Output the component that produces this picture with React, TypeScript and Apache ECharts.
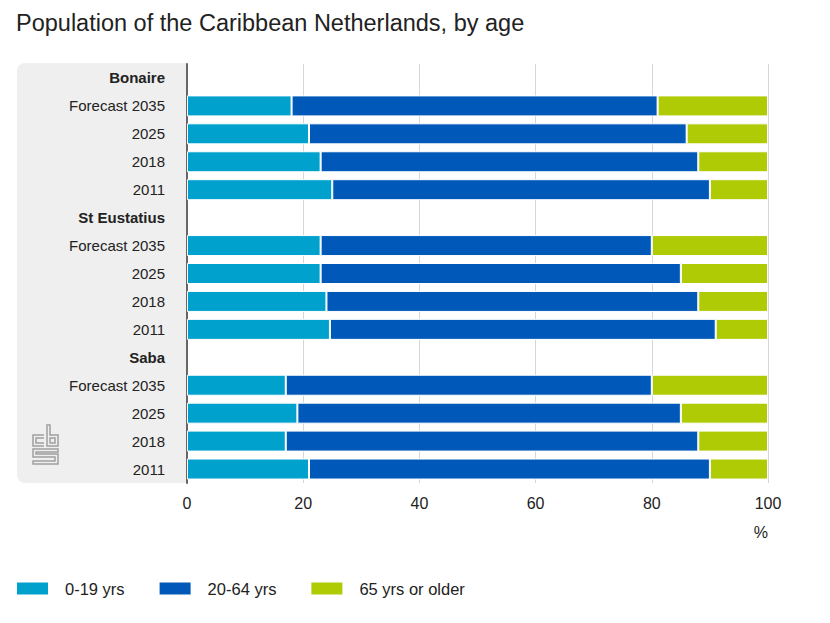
import React, { useEffect, useRef } from "react";
import * as echarts from "echarts";

const islands = ["Bonaire", "St Eustatius", "Saba"];
const periods = ["Forecast 2035", "2025", "2018", "2011"];
// per island, in the order of periods
const age0to19 = [
  [18, 21, 23, 25],
  [23, 23, 24, 24.6],
  [17, 19, 17, 21],
];
const age20to64 = [
  [63, 65, 65, 65],
  [57, 62, 64, 66.4],
  [63, 66, 71, 69],
];
const age65plus = [
  [19, 14, 12, 10],
  [20, 15, 12, 9],
  [20, 15, 12, 10],
];
const seriesNames = ["0-19 yrs", "20-64 yrs", "65 yrs or older"];
const colors = ["#00a1cd", "#0058b8", "#afcb05"];
const xTicks = [0, 20, 40, 60, 80, 100];

const logoPath =
  "M11 10 H0 V21 H11 M11 13 H3 V18 H11 " +
  "M14 0 V21 H25 V10 H17 V0 Z M17 13 H22 V18 H17 Z " +
  "M25 24 H0 V32 H22 V36 H0 V39 H25 V29 H3 V27 H25 Z";

let registered = false;

export default function App() {
  const ref = useRef<HTMLDivElement>(null);
  useEffect(() => {
    if (!ref.current) return;
    if (!registered) {
      echarts.graphic.registerShape("logo", echarts.graphic.extendPath(logoPath, {}) as any);
      registered = true;
    }
    const chart = echarts.init(ref.current, null, { renderer: "svg" });
    const categories: string[] = [];
    const headers: Record<string, boolean> = {};
    const dataSets: (number | string)[][] = [[], [], []];
    const sources = [age0to19, age20to64, age65plus];
    islands.forEach((isl, i) => {
      const h = isl + "|";
      categories.push(h);
      headers[h] = true;
      dataSets.forEach((d) => d.push("-"));
      periods.forEach((p, j) => {
        categories.push(isl + "|" + p);
        sources.forEach((src, k) => dataSets[k].push(src[i][j]));
      });
    });
    const font = "'Liberation Sans', Arial, Helvetica, sans-serif";
    chart.setOption({
      animation: false,
      textStyle: { fontFamily: font },
      title: {
        text: "Population of the Caribbean Netherlands, by age",
        left: 11,
        top: 6,
        textStyle: { fontSize: 23.5, fontWeight: "normal", color: "#222", fontFamily: font },
      },
      legend: {
        left: 10,
        top: 575,
        itemWidth: 33,
        itemHeight: 14,
        itemGap: 33,
        icon: "rect",
        textStyle: { fontSize: 16.5, color: "#222", padding: [0, 0, 0, 11], fontFamily: font },
        data: seriesNames,
      },
      graphic: [
        {
          type: "rect",
          shape: { x: 17, y: 63, width: 171, height: 420, r: [8, 0, 0, 8] },
          style: { fill: "#efefef" },
          z: -10,
          silent: true,
        },
        {
          type: "logo",
          x: 33,
          y: 425,
          scaleX: 1,
          scaleY: 1,
          style: { fill: "none", stroke: "#a0a0a0", lineWidth: 1.5 },
          z: 1,
        },
        {
          type: "text",
          x: 768,
          y: 532,
          style: {
            text: "%",
            fontSize: 16,
            fill: "#222",
            align: "right",
            verticalAlign: "middle",
            fontFamily: font,
          },
        },
      ],
      grid: { left: 187, right: 62, top: 64, bottom: 140 },
      xAxis: {
        type: "value",
        min: 0,
        max: 100,
        interval: 20,
        axisLine: { show: false },
        axisTick: { show: false },
        axisLabel: {
          fontSize: 16,
          color: "#222",
          margin: 12,
          formatter: (v: number) => (xTicks.includes(v) ? String(v) : ""),
        },
        splitLine: { show: true, lineStyle: { color: "#d6d6d6", width: 1 } },
      },
      yAxis: {
        type: "category",
        inverse: true,
        data: categories,
        axisLine: { show: true, lineStyle: { color: "#666", width: 2 } },
        axisTick: { show: false },
        axisLabel: {
          fontSize: 15,
          color: "#222",
          margin: 22,
          formatter: (v: string) => {
            if (headers[v]) return "{h|" + v.split("|")[0] + "}";
            return v.split("|")[1];
          },
          rich: {
            h: { fontWeight: "bold", fontSize: 15, color: "#222", fontFamily: font },
          },
        },
      },
      series: seriesNames.map((name, k) => ({
        name,
        type: "bar",
        stack: "total",
        barWidth: 21,
        data: dataSets[k],
        itemStyle: { color: colors[k], borderColor: "#fff", borderWidth: 1 },
        emphasis: { disabled: true },
      })),
    });
    return () => chart.dispose();
  }, []);
  return <div ref={ref} style={{ width: 830, height: 623, position: "absolute", left: 0, top: 0 }} />;
}
